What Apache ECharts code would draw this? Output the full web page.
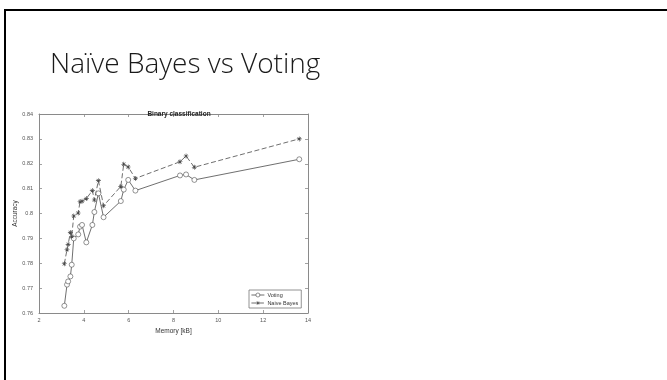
<!DOCTYPE html>
<html>
<head>
<meta charset="utf-8">
<script src="https://cdn.jsdelivr.net/npm/echarts@6/dist/echarts.min.js"></script>
<style>
  html, body { margin: 0; padding: 0; background: #fff; }
  #chart { width: 667px; height: 380px; }
</style>
</head>
<body>
<div id="chart"></div>
<script>
// Model memory footprint (kB) and accuracy for the two classifiers
const memoryKB = [3.13, 3.25, 3.30, 3.40, 3.46, 3.55, 3.75, 3.83, 3.92, 4.11, 4.38,
                  4.47, 4.65, 4.88, 5.65, 5.78, 5.98, 6.30, 8.29, 8.56, 8.93, 13.61];
const votingAcc = [0.7629, 0.7714, 0.7727, 0.7747, 0.7794, 0.7900, 0.7916, 0.7947, 0.7954,
                   0.7884, 0.7954, 0.8006, 0.8081, 0.7985, 0.8050, 0.8096, 0.8135, 0.8092,
                   0.8153, 0.8157, 0.8135, 0.8218];
const naiveBayesAcc = [0.7798, 0.7855, 0.7876, 0.7924, 0.7908, 0.7990, 0.8002, 0.8048, 0.8049,
                       0.8060, 0.8092, 0.8054, 0.8132, 0.8031, 0.8109, 0.8198, 0.8187, 0.8141,
                       0.8208, 0.8231, 0.8186, 0.8300];
const seriesNames = ['Voting', 'Naive Bayes'];
const xTicks = { min: 2, max: 14, step: 2 };
const yTicks = { min: 0.76, max: 0.84, step: 0.01 };

const pair = (xs, ys) => xs.map((x, i) => [x, ys[i]]);

// asterisk marker built from four thin bars
const asterisk = 'path://M4.4 0L5.6 0L5.6 10L4.4 10Z M0 4.4L10 4.4L10 5.6L0 5.6Z ' +
                 'M2 1.2L8.8 8L8 8.8L1.2 2Z M8 1.2L8.8 2L2 8.8L1.2 8Z';

const axisGray = '#8a8a8a';
const labelGray = '#555';
const lineGray = '#4a4a4a';

const chart = echarts.init(document.getElementById('chart'), null, { renderer: 'canvas' });

const boxAxis = {
  axisLine: { show: true, lineStyle: { color: axisGray, width: 1 } },
  axisTick: { show: true, inside: true, length: 3, lineStyle: { color: axisGray, width: 0.8 } },
  splitLine: { show: false }
};

chart.setOption({
  animation: false,
  backgroundColor: '#fff',
  title: [
    {
      text: 'Naïve Bayes vs Voting',
      left: 45, top: 46,
      textStyle: { fontFamily: 'Open Sans', fontWeight: 300, fontSize: 28, color: '#1a1a1a' }
    },
    {
      text: 'Binary classification',
      left: 174, top: 106, textAlign: 'center',
      textStyle: { fontFamily: 'Liberation Sans', fontWeight: 'bold', fontSize: 6.5, color: '#222' }
    }
  ],
  graphic: [
    { type: 'line', shape: { x1: 4, y1: 10, x2: 667, y2: 10 }, style: { stroke: '#000', lineWidth: 2 } },
    { type: 'line', shape: { x1: 5, y1: 9, x2: 5, y2: 380 }, style: { stroke: '#000', lineWidth: 2 } }
  ],
  grid: { left: 39, top: 114, width: 269, height: 199, containLabel: false },
  legend: {
    left: 249, top: 290,
    orient: 'vertical',
    data: seriesNames,
    itemWidth: 13, itemHeight: 5, itemGap: 2,
    padding: [2, 3, 2, 2],
    borderColor: '#777', borderWidth: 0.8,
    backgroundColor: '#fff',
    itemStyle: { borderWidth: 0.6 },
    lineStyle: { width: 0.8 },
    textStyle: { fontFamily: 'Liberation Sans', fontSize: 5.5, color: '#333', padding: [0, 0, 0, -2] }
  },
  xAxis: [
    Object.assign({
      type: 'value', position: 'bottom',
      min: xTicks.min, max: xTicks.max, interval: xTicks.step,
      name: 'Memory [kB]', nameLocation: 'middle', nameGap: 12,
      nameTextStyle: { fontFamily: 'Liberation Sans', fontSize: 6.5, color: '#333' },
      axisLabel: { fontFamily: 'Liberation Sans', fontSize: 5.5, color: labelGray, margin: 4 }
    }, boxAxis),
    Object.assign({
      type: 'value', position: 'top',
      min: xTicks.min, max: xTicks.max, interval: xTicks.step,
      axisLabel: { show: false }
    }, boxAxis)
  ],
  yAxis: [
    Object.assign({
      type: 'value', position: 'left',
      min: yTicks.min, max: yTicks.max, interval: yTicks.step,
      name: 'Accuracy', nameLocation: 'middle', nameGap: 15, nameRotate: 90,
      nameTextStyle: { fontFamily: 'Liberation Sans', fontSize: 6.5, color: '#333' },
      axisLabel: {
        fontFamily: 'Liberation Sans', fontSize: 5.5, color: labelGray, margin: 6,
        formatter: v => String(parseFloat(v.toFixed(2)))
      }
    }, boxAxis),
    Object.assign({
      type: 'value', position: 'right',
      min: yTicks.min, max: yTicks.max, interval: yTicks.step,
      axisLabel: { show: false }
    }, boxAxis)
  ],
  series: [
    {
      name: seriesNames[0], type: 'line',
      data: pair(memoryKB, votingAcc),
      symbol: 'circle', symbolSize: 5,
      lineStyle: { color: lineGray, width: 0.8, type: 'solid' },
      itemStyle: { color: '#fff', borderColor: lineGray, borderWidth: 0.6 }
    },
    {
      name: seriesNames[1], type: 'line',
      data: pair(memoryKB, naiveBayesAcc),
      symbol: asterisk, symbolSize: 5,
      lineStyle: { color: lineGray, width: 0.8, type: [5, 2.5] },
      itemStyle: { color: lineGray }
    }
  ]
});
</script>
</body>
</html>
